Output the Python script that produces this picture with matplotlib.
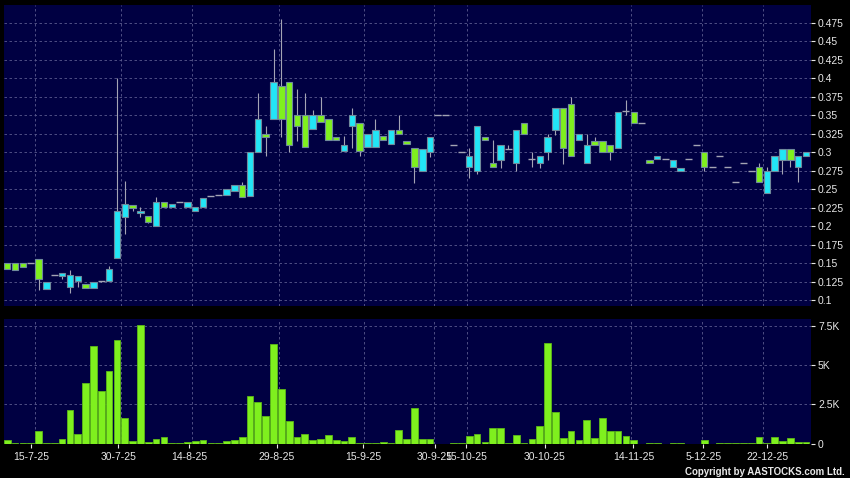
import numpy as np
import matplotlib.pyplot as plt
from matplotlib.ticker import FuncFormatter

# daily OHLC (HKD), one entry per trading bar
opens = [0.15, 0.15, 0.15, 0.15, 0.155, 0.115, 0.134, 0.133, 0.117, 0.126,
         0.122, 0.116, 0.126, 0.126, 0.157, 0.213, 0.229, 0.218, 0.214, 0.2,
         0.233, 0.226, 0.232, 0.226, 0.22, 0.226, 0.241, 0.242, 0.242, 0.247,
         0.255, 0.241, 0.3, 0.325, 0.345, 0.39, 0.395, 0.35, 0.35, 0.331,
         0.35, 0.345, 0.321, 0.302, 0.336, 0.34, 0.307, 0.307, 0.322, 0.311,
         0.33, 0.315, 0.306, 0.275, 0.3, 0.35, 0.35, 0.31, 0.3, 0.28,
         0.275, 0.321, 0.285, 0.29, 0.305, 0.285, 0.339, 0.291, 0.285, 0.3,
         0.33, 0.36, 0.365, 0.316, 0.285, 0.315, 0.315, 0.31, 0.306, 0.356,
         0.355, 0.34, 0.29, 0.291, 0.291, 0.28, 0.275, 0.291, 0.31, 0.3,
         0.28, 0.295, 0.28, 0.26, 0.285, 0.275, 0.28, 0.245, 0.275, 0.29,
         0.305, 0.28, 0.295]
highs = [0.15, 0.15, 0.15, 0.15, 0.155, 0.125, 0.134, 0.137, 0.14, 0.133,
         0.122, 0.125, 0.126, 0.146, 0.40, 0.261, 0.229, 0.226, 0.214, 0.239,
         0.233, 0.23, 0.232, 0.233, 0.226, 0.238, 0.241, 0.242, 0.25, 0.255,
         0.26, 0.3, 0.38, 0.336, 0.44, 0.48, 0.395, 0.386, 0.38, 0.357,
         0.375, 0.345, 0.321, 0.322, 0.36, 0.34, 0.325, 0.345, 0.322, 0.33,
         0.35, 0.315, 0.306, 0.305, 0.32, 0.35, 0.35, 0.31, 0.3, 0.306,
         0.335, 0.321, 0.316, 0.31, 0.31, 0.33, 0.339, 0.3, 0.295, 0.325,
         0.36, 0.36, 0.375, 0.325, 0.325, 0.32, 0.315, 0.31, 0.355, 0.371,
         0.355, 0.34, 0.29, 0.295, 0.291, 0.29, 0.279, 0.291, 0.31, 0.3,
         0.28, 0.295, 0.28, 0.26, 0.285, 0.275, 0.285, 0.28, 0.295, 0.305,
         0.305, 0.295, 0.3]
lows = [0.142, 0.14, 0.145, 0.15, 0.114, 0.115, 0.134, 0.129, 0.11, 0.118,
        0.116, 0.116, 0.124, 0.126, 0.157, 0.189, 0.22, 0.213, 0.204, 0.2,
        0.226, 0.226, 0.232, 0.226, 0.22, 0.226, 0.241, 0.242, 0.242, 0.247,
        0.24, 0.241, 0.3, 0.295, 0.345, 0.32, 0.30, 0.315, 0.307, 0.331,
        0.341, 0.316, 0.316, 0.302, 0.306, 0.295, 0.307, 0.307, 0.316, 0.311,
        0.325, 0.311, 0.259, 0.275, 0.294, 0.35, 0.35, 0.31, 0.3, 0.265,
        0.27, 0.316, 0.28, 0.279, 0.305, 0.274, 0.325, 0.28, 0.279, 0.29,
        0.324, 0.284, 0.295, 0.316, 0.285, 0.31, 0.3, 0.29, 0.306, 0.35,
        0.34, 0.34, 0.285, 0.291, 0.291, 0.28, 0.275, 0.291, 0.31, 0.275,
        0.28, 0.295, 0.28, 0.26, 0.285, 0.275, 0.26, 0.245, 0.275, 0.27,
        0.28, 0.26, 0.295]
closes = [0.142, 0.14, 0.145, 0.15, 0.128, 0.125, 0.134, 0.137, 0.134, 0.133,
          0.116, 0.125, 0.126, 0.142, 0.22, 0.23, 0.225, 0.221, 0.205, 0.233,
          0.226, 0.23, 0.232, 0.233, 0.226, 0.238, 0.241, 0.242, 0.25, 0.255,
          0.24, 0.3, 0.345, 0.321, 0.395, 0.345, 0.31, 0.336, 0.307, 0.35,
          0.341, 0.316, 0.316, 0.31, 0.35, 0.302, 0.325, 0.33, 0.316, 0.33,
          0.325, 0.311, 0.28, 0.305, 0.32, 0.35, 0.35, 0.31, 0.3, 0.295,
          0.335, 0.316, 0.28, 0.31, 0.305, 0.33, 0.325, 0.291, 0.295, 0.32,
          0.36, 0.306, 0.295, 0.325, 0.31, 0.31, 0.3, 0.3, 0.355, 0.356,
          0.34, 0.34, 0.285, 0.295, 0.291, 0.29, 0.279, 0.291, 0.31, 0.28,
          0.28, 0.295, 0.28, 0.26, 0.285, 0.275, 0.26, 0.274, 0.295, 0.305,
          0.29, 0.295, 0.3]
# volume (axis shows it in K)
volume = [213, 10, 20, 5, 809, 20, 10, 277, 2109, 596,
          3855, 6198, 3323, 4643, 6603, 1619, 149, 7540, 85, 277,
          426, 64, 10, 85, 149, 256, 21, 64, 149, 234,
          426, 3003, 2663, 1789, 6326, 3451, 1470, 405, 618, 256,
          277, 575, 213, 149, 405, 10, 10, 5, 85, 10,
          895, 277, 2237, 277, 277, 0, 0, 21, 64, 469,
          618, 85, 1001, 1001, 64, 533, 10, 277, 1108, 6390,
          2024, 362, 831, 213, 1534, 341, 1598, 809, 788, 490,
          256, 0, 64, 21, 0, 43, 21, 0, 0, 213,
          0, 10, 43, 64, 64, 64, 447, 43, 405, 192,
          341, 107, 107]

date_labels = ['15-7-25', '30-7-25', '14-8-25', '29-8-25', '15-9-25', '30-9-25',
               '15-10-25', '30-10-25', '14-11-25', '5-12-25', '22-12-25']
date_ticks = [3.07, 14.18, 23.2, 34.41, 45.47, 54.62, 58.58, 68.67, 79.95, 88.89, 97.06]
date_grid = [3.58, 14.56, 23.63, 34.64, 45.59, 54.53, 58.67, 68.67, 79.62, 88.68, 96.55]

price_ticks = np.arange(0.1, 0.476, 0.025)
vol_ticks = [0, 2500, 5000, 7500]

o = np.array(opens); h = np.array(highs); l = np.array(lows); c = np.array(closes)
v = np.array(volume)
x = np.arange(len(c))

BG = '#000042'
GRID = '#5a5a8e'
TXT = '#e8e8e8'
UP = '#22e6f6'
DOWN = '#7ff01e'
EDGE = '#6f8a9c'
WICK = '#a4a4b4'

plt.rcParams['font.family'] = 'Liberation Sans'

fig = plt.figure(figsize=(8.5, 4.78), dpi=100, facecolor='black')
ax = fig.add_axes([4/850, 1-306/478, 807/850, 301/478], facecolor=BG)
axv = fig.add_axes([4/850, 1-444/478, 807/850, 125/478], facecolor=BG, sharex=ax)

# wicks
ax.vlines(x, l, h, color=WICK, lw=0.8, zorder=2)
# bodies
body = o != c
up = c > o
cols = np.where(up, UP, DOWN)
ax.bar(x[body], np.abs(c - o)[body], bottom=np.minimum(o, c)[body], width=0.82,
       color=cols[body], edgecolor=EDGE, linewidth=0.8, zorder=3)
# dojis
ax.hlines(c[~body], x[~body] - 0.45, x[~body] + 0.45, color=WICK, lw=1.0, zorder=3)

axv.bar(x, v, width=0.86, color=DOWN, edgecolor='#5cb818', linewidth=0.6, zorder=3)

for a in (ax, axv):
    for s in a.spines.values():
        s.set_visible(False)
    a.yaxis.tick_right()
    a.tick_params(axis='y', colors=TXT, labelsize=7.5, length=3, pad=2)
    a.tick_params(axis='x', colors=TXT, labelsize=7.5, length=3, pad=3)
    a.set_xticks(date_grid, minor=True)
    a.tick_params(axis='x', which='minor', length=0)
    a.grid(True, which='minor', axis='x', color=GRID, ls=(0, (3, 3)), lw=0.6)
    a.grid(True, which='major', axis='y', color=GRID, ls=(0, (3, 3)), lw=0.6)
    a.set_axisbelow(True)

ax.set_xlim(-0.42, 102.64)
ax.set_ylim(0.0919, 0.4993)
ax.set_yticks(price_ticks)
ax.yaxis.set_major_formatter(FuncFormatter(lambda p, pos: '%g' % round(p, 3)))
ax.tick_params(axis='x', which='major', length=0, labelbottom=False)

axv.set_ylim(-30, 7950)
axv.set_yticks(vol_ticks)
axv.yaxis.set_major_formatter(FuncFormatter(lambda p, pos: '0' if p == 0 else '%gK' % (p / 1000)))
axv.set_xticks(date_ticks)
axv.set_xticklabels(date_labels)

fig.text(845/850, 6/478, 'Copyright by AASTOCKS.com Ltd.', color=TXT, fontsize=7,
         fontweight='bold', ha='right', va='center')

fig.savefig('out.png', dpi=100, facecolor='black')
